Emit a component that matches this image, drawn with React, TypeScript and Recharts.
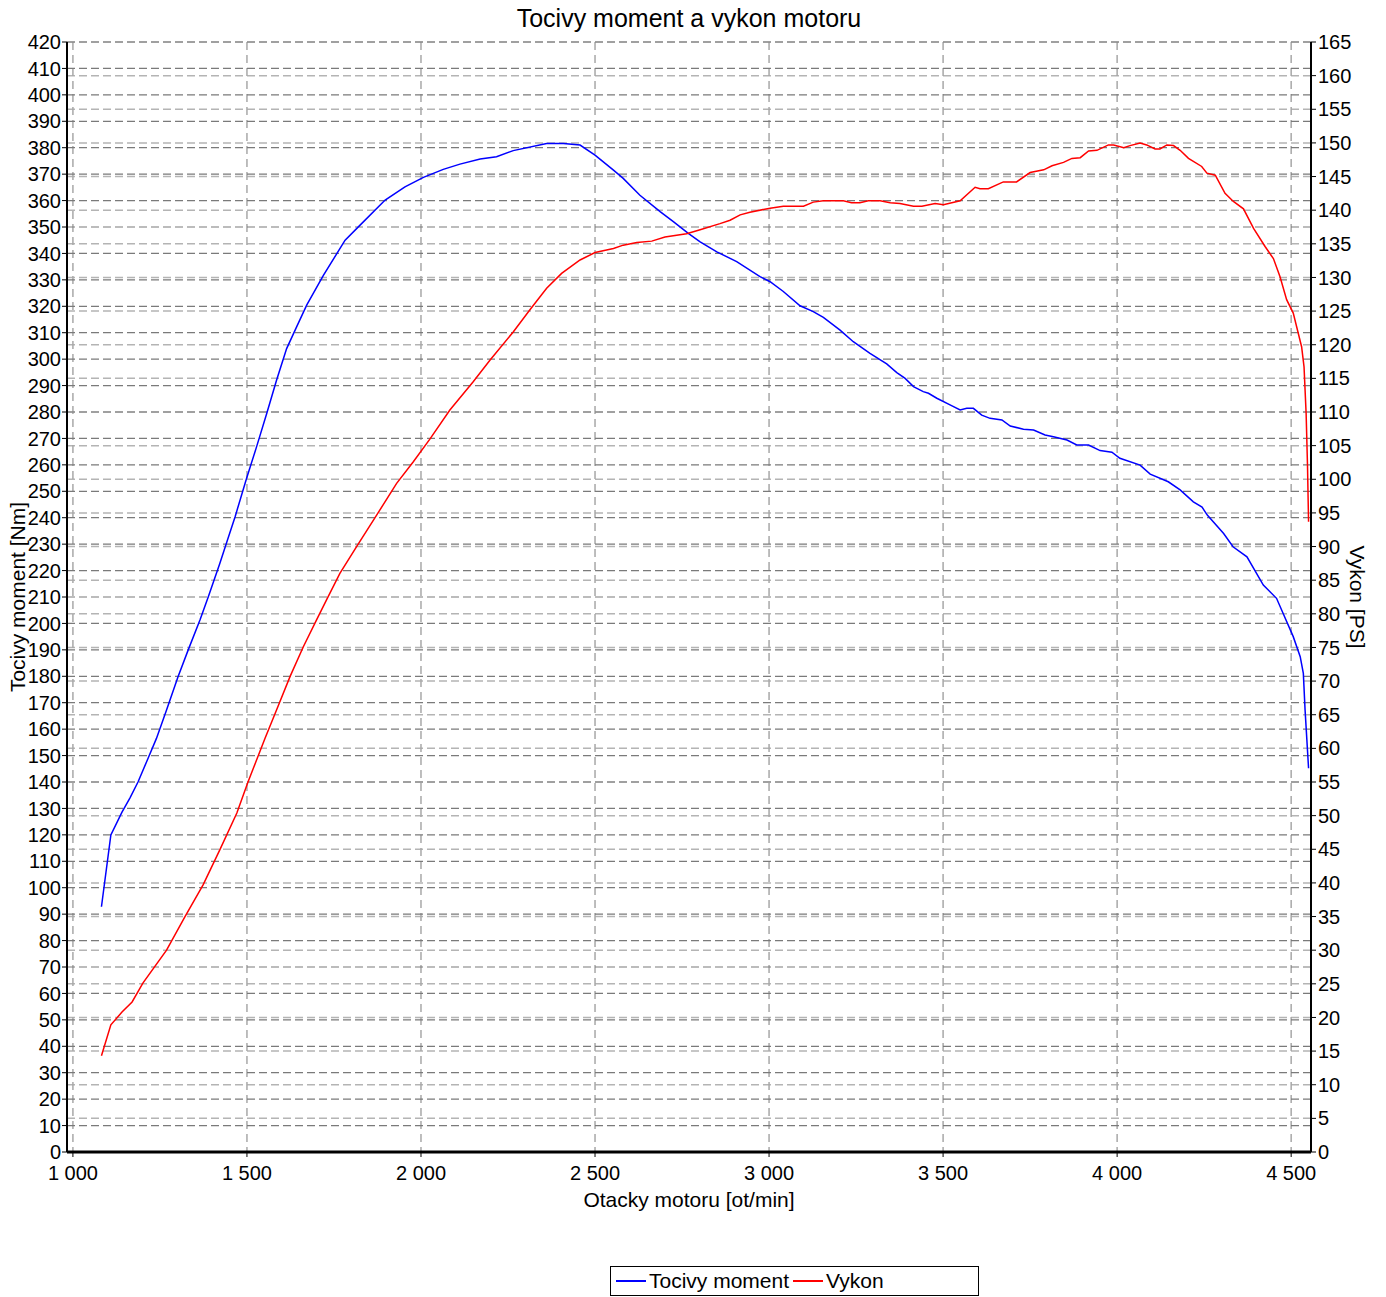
import { LineChart, Line, XAxis, YAxis, CartesianGrid } from 'recharts';

// Torque curve [rpm, Nm]
const torqueRpm = [
  1082, 1109, 1141, 1164, 1187, 1216, 1240, 1269, 1302, 1331, 1365, 1389, 1422, 1441, 1466, 1499,
  1528, 1557, 1585, 1614, 1643, 1672, 1720, 1782, 1825, 1897, 1954, 2007, 2064, 2112, 2170, 2217,
  2265, 2361, 2409, 2457, 2500, 2553, 2581, 2629, 2687, 2725, 2768, 2802, 2850, 2907, 2974, 3003,
  3041, 3089, 3127, 3156, 3204, 3242, 3290, 3338, 3367, 3391, 3415, 3443, 3458, 3482, 3520, 3549,
  3568, 3587, 3611, 3635, 3669, 3693, 3731, 3760, 3793, 3817, 3856, 3884, 3918, 3951, 3985, 4008,
  4066, 4095, 4147, 4181, 4219, 4244, 4259, 4306, 4333, 4373, 4420, 4458, 4506, 4526, 4535, 4540,
  4550,
];
const torqueNm = [
  92.8, 120, 128.6, 134, 140, 149, 156.5, 167.2, 179.8, 189.9, 201.3, 210.1, 222.7, 230.3, 240.4, 254.9,
  267, 279.5, 292, 304, 312.3, 320.5, 331.8, 345, 350.7, 360.2, 365.2, 368.8, 371.8, 373.8, 375.7, 376.6,
  378.9, 381.6, 381.6, 381, 377.2, 371.5, 368.4, 362, 355.8, 352, 347.6, 344.4, 340.6, 336.9, 331.2, 329.3,
  325.6, 320.2, 318, 315.8, 311, 306.6, 302.2, 298.2, 294.9, 292.7, 289.6, 287.7, 287.1, 285.2, 282.7, 280.8,
  281.4, 281.4, 278.8, 277.6, 277, 274.7, 273.5, 273.2, 271.3, 270.6, 269.4, 267.5, 267.5, 265.4, 264.8, 262.5,
  259.9, 256.5, 253.6, 250.5, 246, 244, 241, 234, 229, 225.2, 214.5, 209.5, 195, 187.4, 181.1, 167.2,
  145.2,
];

// Power curve [rpm, PS]
const powerRpm = [
  1082, 1109, 1141, 1170, 1201, 1269, 1322, 1374, 1422, 1471, 1503, 1552, 1585, 1624, 1662, 1700,
  1729, 1767, 1815, 1873, 1930, 1978, 2026, 2083, 2150, 2198, 2265, 2313, 2361, 2404, 2457, 2500,
  2553, 2581, 2620, 2663, 2701, 2763, 2802, 2859, 2888, 2917, 2945, 3003, 3041, 3099, 3127, 3156,
  3213, 3237, 3261, 3285, 3319, 3348, 3376, 3415, 3439, 3477, 3501, 3549, 3592, 3606, 3630, 3673,
  3711, 3750, 3789, 3813, 3846, 3870, 3894, 3918, 3942, 3975, 3990, 4019, 4037, 4066, 4085, 4109,
  4123, 4143, 4162, 4181, 4205, 4243, 4258, 4282, 4310, 4334, 4363, 4392, 4425, 4449, 4468, 4487,
  4506, 4530, 4537, 4543, 4547, 4550,
];
const powerPs = [
  14.3, 18.9, 20.8, 22.3, 25.1, 30, 35, 39.7, 44.9, 50.4, 55, 61.5, 65.7, 70.7, 75.1, 79.1,
  82.1, 86, 90, 94.7, 99.4, 102.6, 106, 110.3, 114.5, 117.7, 121.9, 125.2, 128.4, 130.6, 132.6, 133.7,
  134.3, 134.8, 135.2, 135.4, 136, 136.5, 137.1, 138, 138.5, 139.3, 139.7, 140.3, 140.6, 140.6, 141.2, 141.4,
  141.4, 141.1, 141.1, 141.4, 141.4, 141.1, 141, 140.6, 140.6, 141, 140.8, 141.4, 143.4, 143.2, 143.2, 144.2,
  144.2, 145.6, 146, 146.6, 147.1, 147.7, 147.8, 148.8, 148.9, 149.7, 149.7, 149.3, 149.6, 150, 149.7, 149.1,
  149.1, 149.7, 149.6, 148.9, 147.7, 146.5, 145.5, 145.2, 142.5, 141.3, 140.2, 137.3, 134.6, 132.8, 130.1, 126.7,
  124.7, 119.7, 116.7, 109.8, 101.9, 93.7,
];

const xTicks = [1000, 1500, 2000, 2500, 3000, 3500, 4000, 4500];
const xMinorTicks = [1000, 1125, 1250, 1375, 1500, 1625, 1750, 1875, 2000, 2125, 2250, 2375, 2500, 2625, 2750, 2875, 3000, 3125, 3250, 3375, 3500, 3625, 3750, 3875, 4000, 4125, 4250, 4375, 4500];
const nmTicks = Array.from({ length: 43 }, (_, i) => i * 10);
const nmMinorTicks = Array.from({ length: 211 }, (_, i) => i * 2);
const psTicks = Array.from({ length: 34 }, (_, i) => i * 5);
const psMinorTicks = Array.from({ length: 166 }, (_, i) => i);

const torqueData = torqueRpm.map((rpm, i) => ({ rpm, torque: torqueNm[i] }));
const powerData = powerRpm.map((rpm, i) => ({ rpm, power: powerPs[i] }));

const FONT = '"Liberation Sans", Arial, sans-serif';
const tickStyle = { fontSize: 20, fill: '#000', fontFamily: FONT };
const fmtRpm = (v: number) => String(v).replace(/\B(?=(\d{3})+(?!\d))/g, ' ');
const noTick = () => <g />;

export default function App() {
  return (
    <div style={{ position: 'absolute', left: 0, top: 0, width: 1386, height: 1297, background: '#fff', fontFamily: FONT }}>
      <div style={{ position: 'absolute', left: 0, top: 3, width: 1378, textAlign: 'center', fontSize: 25, lineHeight: '30px' }}>
        Tocivy moment a vykon motoru
      </div>
      <LineChart width={1386} height={1297} margin={{ top: 42, right: 0, bottom: 85, left: 0 }}>
        {/* minor tick axes first so they sit on the plot edge */}
        <XAxis xAxisId="minor" type="number" dataKey="rpm" domain={[983, 4557]} allowDataOverflow ticks={xMinorTicks}
          height={0} axisLine={false} tickSize={3} tickLine={{ stroke: '#000' }} tick={noTick} interval={0} />
        <YAxis yAxisId="leftMinor" domain={[0, 420]} ticks={nmMinorTicks} width={0} axisLine={false}
          tickSize={2} tickLine={{ stroke: '#777' }} tick={noTick} interval={0} />
        <YAxis yAxisId="rightMinor" orientation="right" domain={[0, 165]} ticks={psMinorTicks} width={0} axisLine={false}
          tickSize={2} tickLine={{ stroke: '#777' }} tick={noTick} interval={0} />

        <XAxis xAxisId="main" type="number" dataKey="rpm" domain={[983, 4557]} allowDataOverflow ticks={xTicks}
          tickFormatter={fmtRpm} height={60} tick={tickStyle} tickSize={5} tickMargin={9}
          axisLine={{ stroke: '#000', strokeWidth: 3 }} tickLine={{ stroke: '#000' }} interval={0}
          label={{ value: 'Otacky motoru [ot/min]', position: 'insideBottom', offset: 5, fill: '#000', fontSize: 21, fontFamily: FONT }} />
        <YAxis yAxisId="left" domain={[0, 420]} ticks={nmTicks} width={67} interval={0}
          tick={tickStyle} tickSize={5} tickMargin={1}
          axisLine={{ stroke: '#000', strokeWidth: 2 }} tickLine={{ stroke: '#000' }}
          label={{ value: 'Tocivy moment [Nm]', angle: -90, position: 'insideLeft', offset: 18, fill: '#000', fontSize: 21, fontFamily: FONT, style: { textAnchor: 'middle' } }} />
        <YAxis yAxisId="right" orientation="right" domain={[0, 165]} ticks={psTicks} width={75} interval={0}
          tick={tickStyle} tickSize={5} tickMargin={2}
          axisLine={{ stroke: '#000', strokeWidth: 2 }} tickLine={{ stroke: '#000' }}
          label={{ value: 'Vykon [PS]', angle: 90, position: 'insideRight', offset: 29, fill: '#000', fontSize: 21, fontFamily: FONT, style: { textAnchor: 'middle' } }} />

        <CartesianGrid xAxisId="main" yAxisId="right" vertical={false} stroke="#b4b4b4" strokeDasharray="8 4" strokeWidth={1.5} />
        <CartesianGrid xAxisId="main" yAxisId="left" horizontal={false} stroke="#a8a8a8" strokeDasharray="8 5" strokeWidth={1.5} />
        <CartesianGrid xAxisId="main" yAxisId="left" vertical={false} stroke="#7a7a7a" strokeDasharray="8 4" strokeWidth={1.2} />

        <Line xAxisId="main" yAxisId="left" data={torqueData} dataKey="torque" type="linear" stroke="#0000ff"
          strokeWidth={1.5} dot={false} isAnimationActive={false} />
        <Line xAxisId="main" yAxisId="right" data={powerData} dataKey="power" type="linear" stroke="#ff0000"
          strokeWidth={1.5} dot={false} isAnimationActive={false} />
      </LineChart>

      {/* legend */}
      <div style={{ position: 'absolute', left: 610, top: 1266, width: 367, height: 28, border: '1px solid #000',
        display: 'flex', alignItems: 'center', fontSize: 21, lineHeight: '28px' }}>
        <span style={{ display: 'inline-block', width: 30, height: 2, background: '#0000ff', marginLeft: 5, marginRight: 3 }} />
        <span>Tocivy moment</span>
        <span style={{ display: 'inline-block', width: 30, height: 2, background: '#ff0000', marginLeft: 4, marginRight: 3 }} />
        <span>Vykon</span>
      </div>
    </div>
  );
}
